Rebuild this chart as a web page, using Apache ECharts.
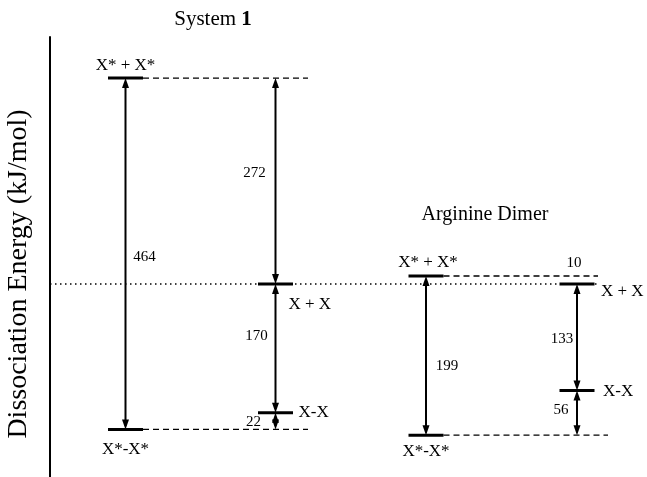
<!DOCTYPE html>
<html><head><meta charset="utf-8">
<script src="https://cdn.jsdelivr.net/npm/echarts@6/dist/echarts.min.js"></script>
<style>html,body{margin:0;padding:0;background:#fff}#c{width:647px;height:477px}</style>
</head><body><div id="c"></div>
<script>
// ---------- data ----------
const systemNames = ['System 1', 'Arginine Dimer'];
const levelNames = ['X* + X*', 'X + X', 'X-X', 'X*-X*'];
// level energies relative to X + X (kJ/mol)
const system1Energies = [272, 0, -170, -192];
const arginineEnergies = [10, 0, -133, -189];
// transitions: [from level, to level, value kJ/mol]
const system1Gaps = [[0, 3, 464], [0, 1, 272], [1, 2, 170], [2, 3, 22]];
const arginineGaps = [[0, 3, 199], [0, 1, 10], [1, 2, 133], [2, 3, 56]];
const axisTitle = 'Dissociation Energy (kJ/mol)';

// ---------- layout (positions / styles only) ----------
const FONT = '"Liberation Serif", "Times New Roman", serif';
const layout = [
  { // System 1
    cols: [125.5, 275.5], levelCol: [0, 1, 1, 0], barHalf: 17.5,
    dashTo: [308, null, null, 308],
    labelPos: [['c', 0, -13], ['l', 13, 21], ['l', 23, 0], ['c', 0, 20]],
    arrowCol: [0, 1, 1, 1], arrowShow: [true, true, true, true],
    gapLabel: [[19, 3], [-21, -8], [-19, -12], [-22, 1]],
    yMin: -254.9, yMax: 326.3
  },
  { // Arginine dimer
    cols: [426, 577], levelCol: [0, 1, 1, 0], barHalf: 17.5,
    dashTo: [598, null, null, 608],
    labelPos: [['c', 2, -13], ['l', 24, 8], ['l', 26, 1], ['c', 0, 16]],
    arrowCol: [0, 1, 1, 1], arrowShow: [true, false, true, true],
    gapLabel: [[21, 10], [-3, -17], [-15, 2], [-16, -3]],
    yMin: -241.25, yMax: 308.75
  }
];
const energiesBy = [system1Energies, arginineEnergies];
const gapsBy = [system1Gaps, arginineGaps];

function text(x, y, str, align, size) {
  return { type: 'text', x: x, y: y, silent: true,
    style: { text: str, fill: '#000', fontSize: size, fontFamily: FONT,
      align: align, verticalAlign: 'middle' } };
}

function levelSeries(s) {
  const L = layout[s];
  const en = energiesBy[s];
  return {
    type: 'custom', xAxisIndex: 0, yAxisIndex: s, silent: true, clip: false,
    data: en.map((e, i) => [L.cols[L.levelCol[i]], e, i]),
    renderItem(params, api) {
      const i = api.value(2);
      const p = api.coord([api.value(0), api.value(1)]);
      const ch = [];
      ch.push({ type: 'line', shape: { x1: p[0] - L.barHalf, y1: p[1], x2: p[0] + L.barHalf, y2: p[1] },
        style: { stroke: '#000', lineWidth: 3 } });
      if (L.dashTo[i]) {
        const xe = api.coord([L.dashTo[i], 0])[0];
        ch.push({ type: 'line', shape: { x1: p[0] + L.barHalf, y1: p[1], x2: xe, y2: p[1] },
          style: { stroke: '#000', lineWidth: 1.3, lineDash: [6, 4] } });
      }
      const lp = L.labelPos[i];
      ch.push(text(p[0] + lp[1], p[1] + lp[2],
        levelNames[i], lp[0] === 'c' ? 'center' : 'left', 17));
      return { type: 'group', children: ch };
    }
  };
}

function arrowSeries(s) {
  const L = layout[s];
  const en = energiesBy[s];
  return {
    type: 'custom', xAxisIndex: 0, yAxisIndex: s, silent: true, clip: false,
    data: gapsBy[s].map((g, k) => [L.cols[L.arrowCol[k]], en[g[0]], en[g[1]], g[2], k]),
    renderItem(params, api) {
      const k = api.value(4);
      const a = api.coord([api.value(0), api.value(1)]);
      const b = api.coord([api.value(0), api.value(2)]);
      const x = a[0], y1 = a[1], y2 = b[1];
      const ch = [];
      if (L.arrowShow[k]) {
        const hl = 10, hw = 3.5;
        ch.push({ type: 'line', shape: { x1: x, y1: y1 + 4, x2: x, y2: y2 - 4 },
          style: { stroke: '#000', lineWidth: 2 } });
        ch.push({ type: 'polygon', shape: { points: [[x, y1], [x - hw, y1 + hl], [x + hw, y1 + hl]] },
          style: { fill: '#000' } });
        ch.push({ type: 'polygon', shape: { points: [[x, y2], [x - hw, y2 - hl], [x + hw, y2 - hl]] },
          style: { fill: '#000' } });
      }
      const gl = L.gapLabel[k];
      ch.push(text(x + gl[0], (y1 + y2) / 2 + gl[1], String(api.value(3)), 'center', 15));
      return { type: 'group', children: ch };
    }
  };
}

const referenceLine = {
  type: 'custom', xAxisIndex: 0, yAxisIndex: 0, silent: true, clip: false, z: 1,
  data: [[50, 0, 597]],
  renderItem(params, api) {
    const a = api.coord([api.value(0), api.value(1)]);
    const b = api.coord([api.value(2), api.value(1)]);
    return { type: 'line', shape: { x1: a[0], y1: a[1], x2: b[0], y2: b[1] },
      style: { stroke: '#000', lineWidth: 1.5, lineDash: [1.5, 3.5] } };
  }
};

const chart = echarts.init(document.getElementById('c'), null, { renderer: 'canvas' });
chart.setOption({
  animation: false,
  backgroundColor: '#fff',
  title: [
    { text: '{a|System }{b|1}', left: 208, top: 4, textAlign: 'center',
      textStyle: { fontWeight: 'normal', rich: {
        a: { fontFamily: FONT, fontSize: 21, fontWeight: 'normal', color: '#000' },
        b: { fontFamily: FONT, fontSize: 21, fontWeight: 'bold', color: '#000' } } } },
    { text: systemNames[1], left: 480, top: 200, textAlign: 'center',
      textStyle: { fontFamily: FONT, fontSize: 20, fontWeight: 'normal', color: '#000' } }
  ],
  graphic: [
    { type: 'text', x: 19, y: 274, rotation: Math.PI / 2, silent: true,
      style: { text: axisTitle, fontFamily: FONT, fontSize: 28, fill: '#000',
        align: 'center', verticalAlign: 'middle' } }
  ],
  grid: { left: 50, right: 0, top: 37, bottom: 0, outerBoundsMode: 'none' },
  xAxis: { type: 'value', min: 50, max: 647, show: false },
  yAxis: [
    { type: 'value', min: layout[0].yMin, max: layout[0].yMax, position: 'left',
      axisLine: { show: true, lineStyle: { color: '#000', width: 2 } },
      axisTick: { show: false }, axisLabel: { show: false }, splitLine: { show: false } },
    { type: 'value', min: layout[1].yMin, max: layout[1].yMax, show: false }
  ],
  series: [referenceLine, levelSeries(0), levelSeries(1), arrowSeries(0), arrowSeries(1)]
});
</script></body></html>
